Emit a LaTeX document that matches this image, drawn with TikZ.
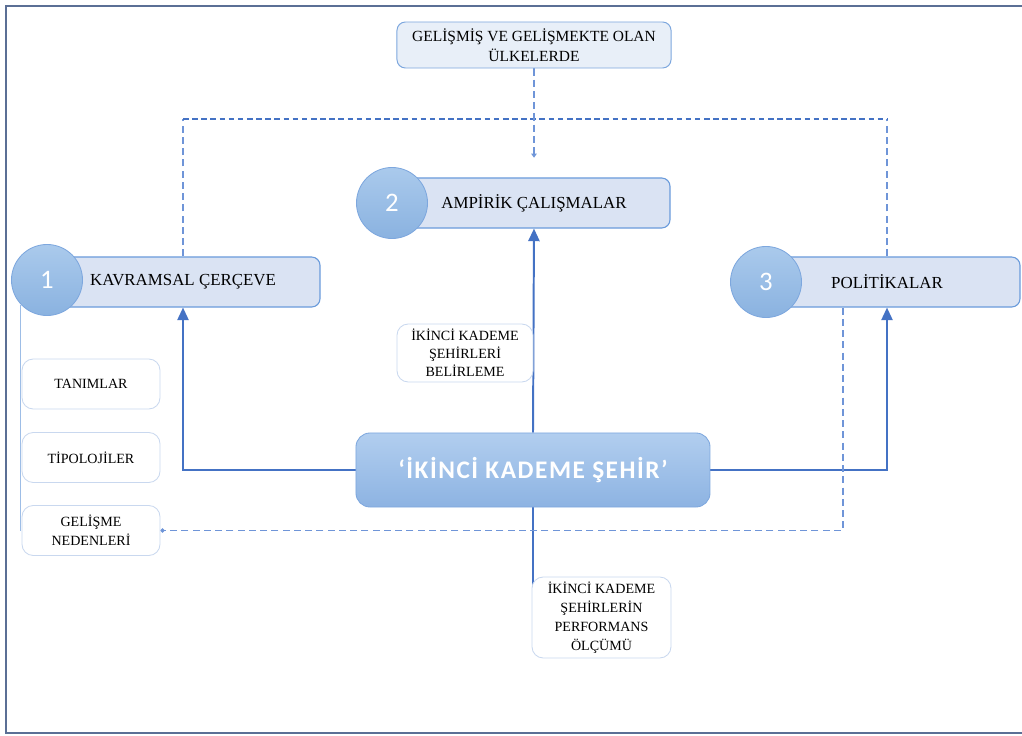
\documentclass[tikz,border=0pt]{standalone}
\usepackage{fontspec}
\setmainfont{Liberation Serif}
\newfontfamily\corefont[LetterSpace=6]{Carlito}
\newfontfamily\numfont{Carlito}
\usepackage{tikz}
\usetikzlibrary{arrows.meta}
\usetikzlibrary{backgrounds,fit}
\usetikzlibrary{calc,positioning}

\definecolor{barfill}{HTML}{DAE3F3}
\definecolor{barline}{HTML}{6A9BDB}
\definecolor{numtop}{HTML}{AACAEC}
\definecolor{numbot}{HTML}{8AB2E0}
\definecolor{numline}{HTML}{7DA7DE}
\definecolor{subline}{HTML}{C9D8EF}
\definecolor{flowblue}{HTML}{4472C4}
\definecolor{dashblue}{HTML}{6F95D8}
\definecolor{framecol}{HTML}{5B6F95}
\definecolor{globfill}{HTML}{E8EFF8}
\definecolor{spinecol}{HTML}{9DBDE6}
\definecolor{coretop}{HTML}{B2CEEF}
\definecolor{corebot}{HTML}{8DB3E2}

\begin{document}
\begin{tikzpicture}[x=0.025cm,y=-0.025cm,thick]
    \tikzstyle{bar}=[draw=barline, fill=barfill, line width=0.8pt, rounded corners=6pt, minimum height=1.25cm, font=\fontsize{12}{14}\selectfont]
    \tikzstyle{num}=[circle, draw=numline, line width=0.6pt, top color=numtop, bottom color=numbot, minimum size=1.775cm, text=white, font=\numfont\fontsize{19}{20}\selectfont]
    \tikzstyle{sub}=[draw=subline, fill=white, line width=0.6pt, rounded corners=8pt, align=center, inner sep=0pt, font=\fontsize{10}{13.5}\selectfont]
    \tikzstyle{flow}=[draw=flowblue, line width=1.4pt, -{Triangle[width=8pt,length=9pt]}]
    \tikzstyle{link}=[draw=dashblue, line width=0.9pt, dash pattern=on 5pt off 3pt]
    \tikzstyle{ridge}=[draw=flowblue, line width=1.6pt, dash pattern=on 4pt off 2.5pt]

    \useasboundingbox (0,0) rectangle (1022,736);
    \draw[framecol, line width=1.3pt] (1030,6) -- (6,6) -- (6,733) -- (1030,733);

    % top box
    \node[draw=numline, fill=globfill, line width=0.7pt, rounded corners=6pt, align=center,
          minimum width=6.85cm, minimum height=1.15cm, font=\fontsize{11}{14}\selectfont]
          (glob) at (534,45) {GELİŞMİŞ VE GELİŞMEKTE OLAN\\ÜLKELERDE};

    % three headings
    \node[bar, minimum width=6.85cm] (kav) at (183,282) {KAVRAMSAL ÇERÇEVE};
    \node[bar, minimum width=6.8cm]  (emp) at (534,203) {AMPİRİK ÇALIŞMALAR};
    \node[bar, minimum width=6.65cm] (pol) at (887,282) {POLİTİKALAR};
    \node[num] (n1) at (47,280)  {1};
    \node[num] (n2) at (392,203) {2};
    \node[num] (n3) at (766,282) {3};

    % centre
    \node[draw=numline, line width=0.6pt, rounded corners=10pt, top color=coretop, bottom color=corebot,
          minimum width=8.85cm, minimum height=1.85cm, text=white,
          font=\corefont\bfseries\fontsize{18}{20}\selectfont]
          (core) at (533,470) {‘İKİNCİ KADEME ŞEHİR’};

    % sub boxes
    \node[sub, minimum width=3.45cm, minimum height=1.25cm] (tan)  at (91,384)   {TANIMLAR};
    \node[sub, minimum width=3.45cm, minimum height=1.25cm] (tip)  at (91,457.5) {TİPOLOJİLER};
    \node[sub, minimum width=3.45cm, minimum height=1.25cm] (nede) at (91,530.5) {GELİŞME\\NEDENLERİ};
    \node[sub, minimum width=3.4cm, minimum height=1.45cm, font=\fontsize{10}{12.8}\selectfont]
          (bel) at (465,353) {İKİNCİ KADEME\\ŞEHİRLERİ\\BELİRLEME};
    \node[sub, minimum width=3.475cm, minimum height=2.025cm]
          (perf) at (601.5,617.5) {İKİNCİ KADEME\\ŞEHİRLERİN\\PERFORMANS\\ÖLÇÜMÜ};

    \coordinate (top) at (534,119);

    \begin{scope}[on background layer]
        \draw[flow] (core.west) -| (kav.south);
        \draw[flow] (core.east) -| (pol.south);
        \draw[flow] (core.north) -- (emp.south);
        \draw[draw=flowblue, line width=1.4pt] (core.south) -- ($(core.south |- perf.south)+(0,-18)$);
        \draw[draw=spinecol, line width=1pt] (n1.223) -- (n1.223 |- nede.west);
        \draw[link] (kav.north) -- (kav.north |- top);
        \draw[link] (pol.north) -- (pol.north |- top);
        \draw[ridge] (kav.north |- top) -- (pol.north |- top);
        \draw[link, -{Triangle[width=4pt,length=3pt]}, shorten >=14] (glob.south) -- (emp.north);
        \draw[link, -{Circle[length=3pt]}] ([xshift=-1.1cm]pol.south) |- (nede.east);
    \end{scope}
\end{tikzpicture}
\end{document}
